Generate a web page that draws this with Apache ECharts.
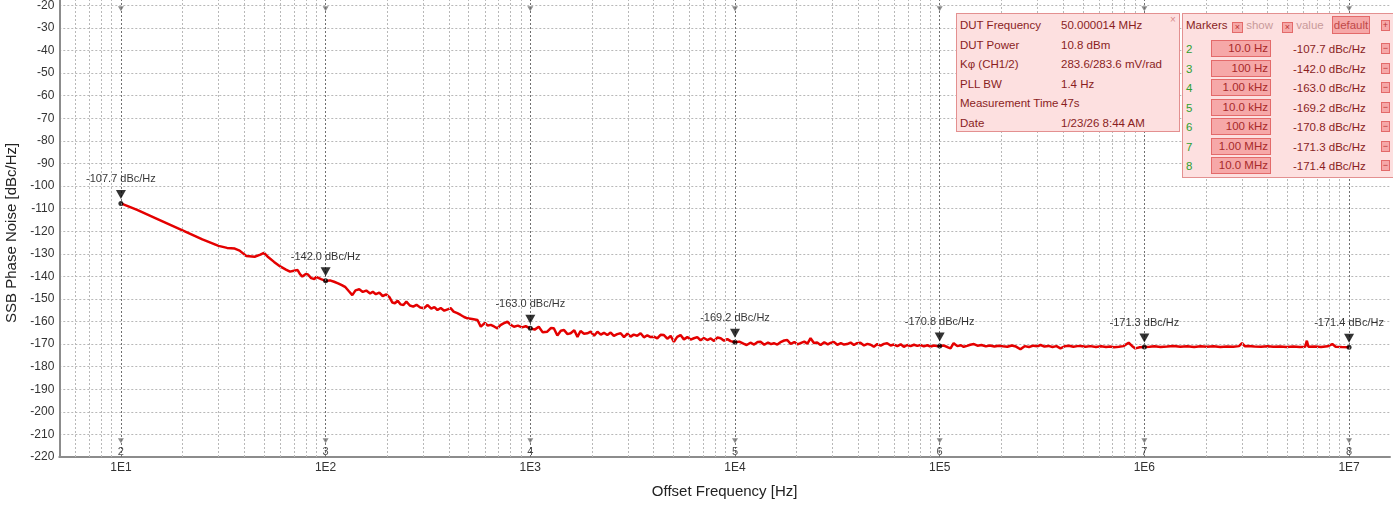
<!DOCTYPE html>
<html lang="en">
<head>
    <meta charset="UTF-8">
    <title>SSB Phase Noise</title>
    <script src="https://cdn.jsdelivr.net/npm/echarts@6/dist/echarts.min.js"></script>
    <style>
        body { margin: 0; background: #fff; font-family: 'Liberation Sans', Arial, sans-serif; overflow: hidden; }
        /* chart canvas shifted up so the -10 row sits just above the window */
        #chart { position: absolute; left: 0; top: -23px; width: 1393px; height: 530px; }
        .box { position: absolute; background: #fde0e0; border: 1px solid #e39090; color: #8a1e1e; font-size: 11.5px; }
        .row { position: absolute; white-space: nowrap; line-height: 14px; }
        .inp { position: absolute; width: 56px; height: 15px; background: #f6a8a8; border: 1px solid #e36a6a;
               text-align: right; line-height: 15px; color: #a82a2a; box-sizing: content-box; padding-right: 2px; }
        .num { color: #2f9f2f; }
        .btn { position: absolute; width: 7px; height: 9px; background: #f6a8a8; border: 1px solid #e36a6a;
               font-size: 9px; line-height: 9px; text-align: center; color: #b33; }
        .chk { display: inline-block; width: 9px; height: 9px; background: #f6a8a8; border: 1px solid #e36a6a;
               font-size: 9px; line-height: 9px; text-align: center; color: #b33; vertical-align: -1px; }
        .dim { color: #c99a9a; }
    </style>
</head>
<body>
    <div id="chart"></div>
    <div id="info" class="box" style="left:956px; top:13px; width:222px; height:117px;"></div>
    <div id="markers" class="box" style="left:1182px; top:13px; width:220px; height:163px;"></div>

    <script>
        // trace: [offset Hz, dBc/Hz]
        const trace = [
            [10, -107.7], [12, -110.6], [15, -114.5], [20, -119.6], [25, -123.6], [30, -126.5],
            [33, -127.4], [36, -127.7], [38, -128.6], [41, -131.0], [45, -131.3], [48, -130.4],
            [50, -129.6], [52, -131.2], [56, -133.6], [60, -135.6], [64, -137.0], [67, -137.9],
            [70, -137.5], [73, -137.2], [75, -139.0], [77, -140.1], [80, -139.0], [82, -139.2],
            [85, -140.8], [88, -141.2], [90, -140.2], [92, -139.8], [95, -141.2], [100, -142.0],
            [105, -141.8], [110, -142.4], [115, -143.1], [120, -143.9], [125, -144.8], [130, -146.6],
            [135, -148.3], [140, -146.2], [146, -145.7], [152, -146.9], [158, -146.3], [165, -147.6],
            [170, -146.8], [176, -147.9], [183, -147.2], [190, -148.7], [198, -148.0], [205, -149.2],
            [212, -151.6], [218, -151.9], [225, -150.8], [232, -152.4], [240, -152.7], [248, -151.2],
            [258, -152.9], [268, -153.4], [278, -152.6], [290, -153.8], [303, -154.1], [315, -152.7],
            [328, -154.3], [340, -153.6], [352, -154.9], [365, -154.0], [380, -155.2], [395, -154.6],
            [408, -154.1], [422, -155.6], [440, -156.3], [457, -157.1], [475, -158.0], [493, -158.6],
            [520, -158.9], [552, -159.3], [573, -162.3], [600, -160.6], [620, -161.8], [641, -161.5],
            [665, -162.2], [691, -163.0], [715, -161.6], [740, -160.8], [773, -160.1], [800, -161.4],
            [832, -162.3], [870, -161.8], [910, -162.6], [950, -162.1], [1000, -163.0],
            [1050, -163.6], [1100, -162.3], [1150, -164.8], [1210, -164.5], [1260, -162.9], [1303, -163.0],
            [1356, -166.2], [1410, -164.1], [1462, -163.8], [1520, -165.6], [1574, -165.2], [1640, -163.9],
            [1700, -166.8], [1760, -164.2], [1830, -165.4], [1900, -165.2], [1973, -164.5], [2050, -166.3],
            [2128, -164.5], [2210, -165.8], [2290, -165.0], [2378, -166.0], [2470, -164.9], [2560, -166.4],
            [2660, -165.6], [2763, -165.2], [2870, -166.9], [2980, -165.4], [3092, -166.7], [3200, -165.8],
            [3330, -166.3], [3458, -165.2], [3590, -167.0], [3730, -166.1], [3870, -166.9], [4018, -166.7],
            [4170, -167.5], [4330, -165.9], [4495, -166.0], [4670, -167.6], [4850, -166.4], [5030, -169.0],
            [5220, -166.8], [5420, -166.0], [5630, -167.9], [5850, -166.9], [6070, -168.0], [6298, -167.4],
            [6540, -166.9], [6790, -168.3], [7050, -167.3], [7325, -168.2], [7610, -167.5], [7900, -168.6],
            [8200, -167.1], [8511, -167.4], [8840, -168.5], [9180, -167.8], [9520, -168.7], [10000, -169.2],
            [10500, -168.9], [11000, -169.8], [11400, -170.4], [11900, -169.4], [12400, -170.2], [12900, -169.1],
            [13330, -169.0], [13900, -170.3], [14500, -169.3], [15000, -170.0], [15490, -169.6], [16100, -170.2],
            [16800, -169.0], [17400, -168.4], [18000, -168.2], [18700, -169.9], [19500, -169.1], [20200, -170.1],
            [20900, -169.6], [21800, -168.9], [22600, -169.8], [23400, -167.4], [24300, -169.5], [25200, -169.3],
            [26200, -170.4], [27300, -169.2], [28400, -170.1], [29300, -169.5], [30400, -169.0], [31600, -170.3],
            [32900, -169.6], [34100, -170.2], [35300, -170.0], [36700, -169.3], [38100, -170.4], [39500, -169.6],
            [41000, -169.4], [42700, -170.6], [44400, -169.9], [46000, -170.3], [47700, -171.2], [49600, -170.0],
            [51500, -170.7], [53400, -169.9], [55400, -169.6], [57600, -170.6], [59800, -170.2], [62100, -170.9],
            [64500, -170.1], [66800, -171.2], [69400, -170.4], [72100, -170.9], [74900, -170.3], [77700, -170.8],
            [80600, -170.4], [83700, -171.0], [87000, -170.5], [90300, -171.1], [93800, -170.6], [97000, -170.9],
            [100000, -170.8],
            [104000, -170.6], [109000, -171.3], [113000, -171.9], [117000, -169.6], [122000, -170.9], [127000, -170.5],
            [131000, -171.2], [136000, -170.8], [141000, -170.3], [147000, -170.0], [153000, -170.7], [160000, -170.4],
            [168000, -171.0], [176000, -170.6], [185000, -171.1], [194000, -170.7], [204000, -171.0], [214000, -171.2],
            [225000, -170.6], [236000, -171.1], [248000, -172.3], [260000, -170.9], [273000, -171.3], [287000, -170.7],
            [300000, -171.0], [311000, -170.4], [325000, -171.1], [340000, -170.8], [356000, -171.3], [372000, -170.9],
            [389000, -171.9], [408000, -171.0], [428000, -170.7], [450000, -171.2], [470000, -170.9], [488000, -170.8],
            [515000, -171.2], [545000, -170.9], [580000, -171.3], [615000, -171.0], [650000, -171.3], [680000, -171.1],
            [710000, -171.4], [750000, -171.2], [790000, -170.9], [838000, -169.4], [870000, -170.8], [903000, -171.9],
            [950000, -171.4], [1000000, -171.3],
            [1060000, -171.2], [1120000, -171.0], [1200000, -171.3], [1290000, -171.1], [1390000, -170.8], [1500000, -171.2],
            [1620000, -171.0], [1750000, -171.3], [1880000, -171.0], [2020000, -171.2], [2180000, -171.0], [2350000, -171.3],
            [2530000, -171.1], [2720000, -171.2], [2900000, -170.9], [3000000, -169.6], [3100000, -171.0], [3200000, -170.8],
            [3450000, -171.1], [3720000, -171.2], [4000000, -171.0], [4270000, -171.2], [4600000, -171.1], [4960000, -171.3],
            [5340000, -171.1], [5750000, -171.3], [6100000, -171.2], [6220000, -168.5], [6330000, -171.2], [6800000, -171.1],
            [7300000, -171.3], [7850000, -171.0], [8280000, -170.0], [8600000, -171.2], [9200000, -171.3], [10000000, -171.4]
        ];

        // markers
        const markerIds = [2, 3, 4, 5, 6, 7, 8];
        const markerHz = [10, 100, 1e3, 1e4, 1e5, 1e6, 1e7];
        const markerDb = [-107.7, -142.0, -163.0, -169.2, -170.8, -171.3, -171.4];
        const markerFreqText = ['10.0 Hz', '100 Hz', '1.00 kHz', '10.0 kHz', '100 kHz', '1.00 MHz', '10.0 MHz'];

        // info panel
        const infoLabels = ['DUT Frequency', 'DUT Power', 'K\u03c6 (CH1/2)', 'PLL BW', 'Measurement Time', 'Date'];
        const infoValues = ['50.000014 MHz', '10.8 dBm', '283.6/283.6 mV/rad', '1.4 Hz', '47s', '1/23/26 8:44 AM'];

        const xMin = 5, xMax = Math.pow(10, 7.2);
        const yMin = -220, yMax = -10;

        // vertical log grid positions (1..9 per decade)
        const vGrid = [];
        for (let d = 0; d <= 7; d++) {
            for (let k = 1; k <= 9; k++) {
                const v = k * Math.pow(10, d);
                if (v > xMin && v < xMax) vGrid.push({ xAxis: v });
            }
        }

        const fmtDb = v => v.toFixed(1) + ' dBc/Hz';
        const dotted = [2, 2];

        const chart = echarts.init(document.getElementById('chart'));
        chart.setOption({
            animation: false,
            textStyle: { fontFamily: "'Liberation Sans', Arial, sans-serif" },
            grid: { left: 59.3, right: 3, top: 5.8, bottom: 50, outerBoundsMode: 'none', containLabel: false },
            xAxis: {
                type: 'log', logBase: 10, min: xMin, max: xMax,
                name: 'Offset Frequency [Hz]', nameLocation: 'middle', nameGap: 27,
                nameTextStyle: { fontSize: 15, color: '#222' },
                axisLine: { lineStyle: { color: '#8c8c8c', width: 2 } },
                axisTick: { show: false },
                splitLine: { show: false },
                axisLabel: {
                    margin: 5, fontSize: 12, color: '#333',
                    formatter: v => {
                        const e = Math.log10(v);
                        return Math.abs(e - Math.round(e)) < 1e-6 ? '1E' + Math.round(e) : '';
                    }
                }
            },
            yAxis: {
                type: 'value', min: yMin, max: yMax, interval: 10,
                name: 'SSB Phase Noise [dBc/Hz]', nameLocation: 'middle', nameGap: 38,
                nameTextStyle: { fontSize: 15, color: '#222', padding: [0, 26, 0, 0] },
                axisLine: { show: true, lineStyle: { color: '#8c8c8c', width: 2 } },
                axisTick: { show: false },
                axisLabel: { margin: 5, fontSize: 12, color: '#333' },
                splitLine: { lineStyle: { color: '#b8b8b8', type: dotted, width: 1 } }
            },
            series: [
                {
                    type: 'line', data: [], silent: true,
                    markLine: {
                        silent: true, symbol: 'none', label: { show: false },
                        lineStyle: { color: '#b8b8b8', type: dotted, width: 1 },
                        data: vGrid
                    }
                },
                {
                    type: 'line', data: [], silent: true,
                    markLine: {
                        silent: true, symbol: 'none', label: { show: false },
                        lineStyle: { color: '#707070', type: dotted, width: 1 },
                        data: markerHz.map(f => ({ xAxis: f }))
                    }
                },
                {
                    name: 'trace', type: 'line', data: trace, showSymbol: false,
                    lineStyle: { color: '#e40000', width: 2.5 }, z: 3
                },
                {
                    // marker dots
                    type: 'scatter', symbol: 'circle', symbolSize: 5, z: 4,
                    itemStyle: { color: '#000' },
                    data: markerHz.map((f, i) => [f, markerDb[i]])
                },
                {
                    // marker triangles + value labels
                    type: 'scatter', symbol: 'triangle', symbolRotate: 180, symbolSize: [10, 9],
                    symbolOffset: [0, -9], z: 5,
                    itemStyle: { color: '#000' },
                    label: {
                        show: true, position: 'top', distance: 5, fontSize: 11, color: '#000',
                        formatter: p => fmtDb(p.value[1])
                    },
                    data: markerHz.map((f, i) => [f, markerDb[i]])
                },
                {
                    // marker ids at the bottom
                    type: 'scatter', symbol: 'path://M0,0L10,0L5,7Z', symbolSize: [6, 5], z: 5,
                    itemStyle: { color: '#707070' },
                    label: {
                        show: true, position: 'bottom', distance: 3, fontSize: 11, color: '#222',
                        formatter: p => String(markerIds[p.dataIndex])
                    },
                    data: markerHz.map(f => [f, -212.8])
                },
                {
                    // marker chevrons at the top
                    type: 'scatter', symbol: 'path://M0,0L10,0L5,7Z', symbolSize: [6, 5], z: 5,
                    itemStyle: { color: '#707070' },
                    data: markerHz.map(f => [f, -21.5])
                }
            ]
        });

        // info panel text
        const info = document.getElementById('info');
        infoLabels.forEach((t, i) => {
            const y = 4 + i * 19.6;
            info.insertAdjacentHTML('beforeend',
                `<div class="row" style="left:3px; top:${y}px">${t}</div>` +
                `<div class="row" style="left:104px; top:${y}px">${infoValues[i]}</div>`);
        });
        info.insertAdjacentHTML('beforeend',
            '<div class="row" style="left:213px; top:-1px; color:#d98a8a; font-size:10px">\u00d7</div>');

        // marker panel
        const mk = document.getElementById('markers');
        mk.insertAdjacentHTML('beforeend',
            '<div class="row" style="left:3px; top:4px">Markers</div>' +
            '<div class="row" style="left:49px; top:4px"><span class="chk">\u00d7</span> <span class="dim">show</span></div>' +
            '<div class="row" style="left:99px; top:4px"><span class="chk">\u00d7</span> <span class="dim">value</span></div>' +
            '<div class="row" style="left:149px; top:2px; width:36px; height:16px; line-height:16px; background:#f6a8a8; border:1px solid #e36a6a; text-align:center; color:#c04848">default</div>' +
            '<div class="btn" style="left:198px; top:6px">+</div>');
        markerIds.forEach((id, i) => {
            const y = 28 + i * 19.5;
            mk.insertAdjacentHTML('beforeend',
                `<div class="row num" style="left:3px; top:${y}px">${id}</div>` +
                `<div class="inp" style="left:28px; top:${y - 2}px">${markerFreqText[i]}</div>` +
                `<div class="row" style="left:110px; top:${y}px">${fmtDb(markerDb[i])}</div>` +
                `<div class="btn" style="left:198px; top:${y + 1}px">\u2212</div>`);
        });
    </script>
</body>
</html>
